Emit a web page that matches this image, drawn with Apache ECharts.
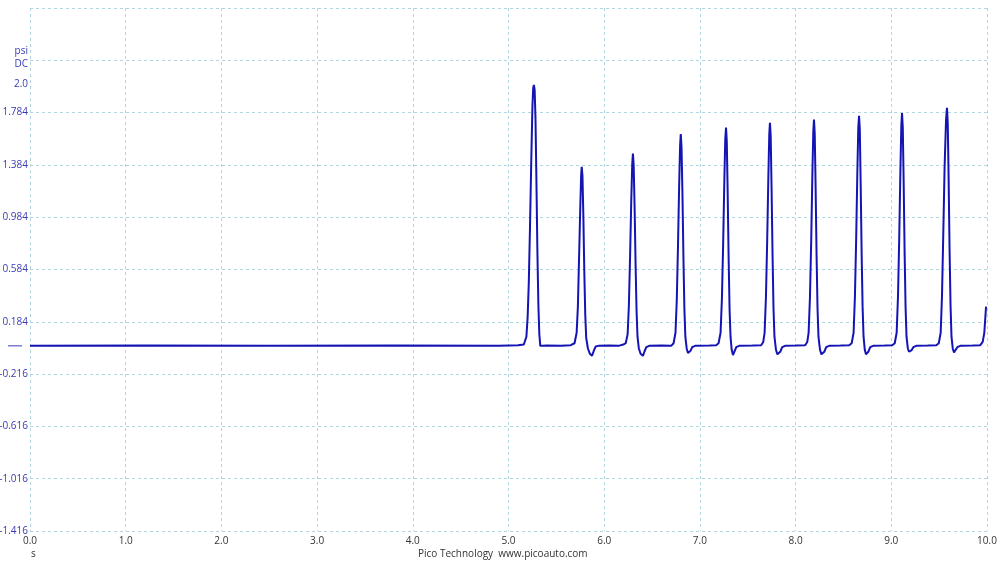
<!DOCTYPE html>
<html>
<head>
<meta charset="utf-8">
<script src="https://cdn.jsdelivr.net/npm/echarts@6/dist/echarts.min.js"></script>
<style>html,body{margin:0;padding:0;background:#fff}#c{width:1000px;height:562px}</style>
</head>
<body>
<div id="c"></div>
<script>
// time (s), pressure (psi)
const baseline = [[0,0],[1.2,0.002],[2.5,0],[3.8,0.002],[4.9,0],[5.1,0.004],[5.16,0.01]];
const cycle1 = [[5.172,0.02],[5.187,0.07],[5.2,0.22],[5.212,0.48],[5.225,0.92],[5.238,1.42],[5.25,1.83],[5.258,1.97],[5.265,1.995],[5.273,1.96],[5.282,1.74],[5.292,1.25],[5.302,0.72],[5.312,0.32],[5.322,0.09],[5.332,0.0],[5.345,-0.015],[5.36,0.0],[5.40,0.003],[5.55,0.0],[5.65,0.005],[5.69,0.02]];
const cycle2 = [[5.698,0.03],[5.712,0.1],[5.725,0.3],[5.737,0.66],[5.75,1.06],[5.759,1.3],[5.765,1.37],[5.773,1.3],[5.782,1.0],[5.792,0.57],[5.802,0.24],[5.812,0.06],[5.83,-0.02],[5.85,-0.06],[5.873,-0.076],[5.89,-0.04],[5.91,-0.005],[5.94,0.0],[6.05,0.002],[6.15,0.0],[6.2,0.01],[6.225,0.02]];
const cycle3 = [[6.232,0.03],[6.245,0.09],[6.258,0.31],[6.271,0.7],[6.283,1.12],[6.293,1.39],[6.30,1.47],[6.308,1.38],[6.318,1.05],[6.328,0.62],[6.338,0.27],[6.348,0.07],[6.362,-0.02],[6.38,-0.06],[6.405,-0.076],[6.42,-0.045],[6.44,-0.01],[6.47,0.0],[6.6,0.003],[6.7,0.0],[6.725,0.02]];
const cycle4 = [[6.732,0.03],[6.745,0.1],[6.758,0.34],[6.771,0.76],[6.783,1.22],[6.793,1.53],[6.80,1.62],[6.808,1.52],[6.818,1.15],[6.828,0.67],[6.838,0.28],[6.848,0.07],[6.862,-0.02],[6.875,-0.055],[6.886,-0.062],[6.90,-0.04],[6.92,-0.01],[6.95,0.0],[7.1,0.003],[7.17,0.005],[7.195,0.02]];
const cycle5 = [[7.202,0.03],[7.216,0.1],[7.23,0.36],[7.243,0.78],[7.255,1.25],[7.265,1.58],[7.273,1.67],[7.281,1.56],[7.29,1.18],[7.3,0.68],[7.31,0.28],[7.32,0.07],[7.332,-0.03],[7.346,-0.07],[7.36,-0.045],[7.38,-0.01],[7.41,0.0],[7.55,0.002],[7.64,0.005],[7.656,0.02]];
const cycle6 = [[7.662,0.03],[7.676,0.1],[7.69,0.37],[7.703,0.8],[7.715,1.28],[7.725,1.62],[7.732,1.705],[7.74,1.6],[7.749,1.2],[7.759,0.7],[7.769,0.29],[7.779,0.07],[7.795,-0.03],[7.81,-0.065],[7.826,-0.07],[7.84,-0.045],[7.86,-0.01],[7.89,0.0],[8.0,0.002],[8.1,0.005],[8.116,0.02]];
const cycle7 = [[8.122,0.03],[8.136,0.1],[8.15,0.37],[8.163,0.8],[8.175,1.3],[8.185,1.64],[8.192,1.73],[8.2,1.62],[8.209,1.22],[8.219,0.7],[8.229,0.29],[8.239,0.07],[8.255,-0.03],[8.27,-0.065],[8.286,-0.07],[8.30,-0.045],[8.32,-0.01],[8.35,0.0],[8.47,0.002],[8.56,0.005],[8.586,0.02]];
const cycle8 = [[8.592,0.03],[8.606,0.1],[8.62,0.38],[8.633,0.82],[8.645,1.32],[8.655,1.67],[8.663,1.76],[8.671,1.65],[8.68,1.24],[8.69,0.71],[8.7,0.3],[8.71,0.07],[8.723,-0.03],[8.735,-0.065],[8.746,-0.07],[8.76,-0.045],[8.78,-0.01],[8.81,0.0],[8.93,0.002],[9.01,0.005],[9.036,0.02]];
const cycle9 = [[9.042,0.03],[9.056,0.1],[9.07,0.38],[9.083,0.83],[9.095,1.34],[9.105,1.69],[9.112,1.78],[9.12,1.67],[9.129,1.26],[9.139,0.72],[9.149,0.3],[9.159,0.07],[9.173,-0.02],[9.185,-0.045],[9.195,-0.05],[9.21,-0.035],[9.23,-0.01],[9.26,0.0],[9.38,0.002],[9.47,0.005],[9.496,0.02]];
const cycle10 = [[9.502,0.03],[9.516,0.1],[9.53,0.39],[9.543,0.85],[9.557,1.37],[9.572,1.73],[9.582,1.82],[9.59,1.7],[9.599,1.28],[9.609,0.73],[9.619,0.31],[9.629,0.07],[9.642,-0.02],[9.655,-0.05],[9.67,-0.035],[9.69,-0.01],[9.72,0.0],[9.85,0.002],[9.93,0.005],[9.955,0.03],[9.972,0.1],[9.99,0.3]];

const yLabelValues = [-1.416,-1.016,-0.616,-0.216,0.184,0.584,0.984,1.384,1.784,2.0];
const yMin = -1.416, yMax = 2.584, yStep = 0.4;
const xMin = 0, xMax = 10, xStep = 1;

const trace = [].concat(baseline,cycle1,cycle2,cycle3,cycle4,cycle5,cycle6,cycle7,cycle8,cycle9,cycle10);

const gridColor = '#b0d6e0';
const font = 'Open Sans, Noto Sans, sans-serif';
const chart = echarts.init(document.getElementById('c'), null, {renderer:'canvas'});
chart.setOption({
  animation:false,
  backgroundColor:'#ffffff',
  grid:{left:30,right:13,top:8,bottom:31,containLabel:false,outerBoundsMode:'none'},
  xAxis:{
    type:'value',min:xMin,max:xMax,interval:xStep,
    axisLine:{show:false},axisTick:{show:false},
    axisLabel:{color:'#333333',fontFamily:font,fontSize:10,margin:5,formatter:v=>v.toFixed(1),showMinLabel:true,showMaxLabel:true},
    splitLine:{show:true,lineStyle:{color:gridColor,type:[3,3],width:1}}
  },
  yAxis:{
    type:'value',min:yMin,max:yMax,interval:yStep,
    axisLine:{show:false},axisTick:{show:false},
    axisLabel:{color:'#3a3ab2',fontFamily:font,fontSize:10,margin:2,
      customValues:yLabelValues,
      formatter:v=>Math.abs(v-2.0)<1e-6?'2.0':v.toFixed(3)},
    splitLine:{show:true,lineStyle:{color:gridColor,type:[3,3],width:1}}
  },
  series:[{
    type:'line',data:trace,showSymbol:false,symbol:'none',
    lineStyle:{color:'#1414b4',width:2},
    z:5
  }]
});
const zeroPx = chart.convertToPixel({gridIndex:0},[0,0]);
chart.setOption({
  graphic:[
    {type:'text',right:1000-28,top:46,style:{text:'psi',fill:'#3a3ab2',font:'10px '+font,textAlign:'right'}},
    {type:'text',right:1000-28,top:59,style:{text:'DC',fill:'#3a3ab2',font:'10px '+font,textAlign:'right'}},
    {type:'line',shape:{x1:8,y1:zeroPx[1],x2:22,y2:zeroPx[1]},style:{stroke:'#3a3ab2',lineWidth:1}},
    {type:'text',left:31,top:549,style:{text:'s',fill:'#333333',font:'10px '+font}},
    {type:'text',left:418,top:549,style:{text:'Pico Technology  www.picoauto.com',fill:'#333333',font:'10px '+font}}
  ]
});
</script>
</body>
</html>
